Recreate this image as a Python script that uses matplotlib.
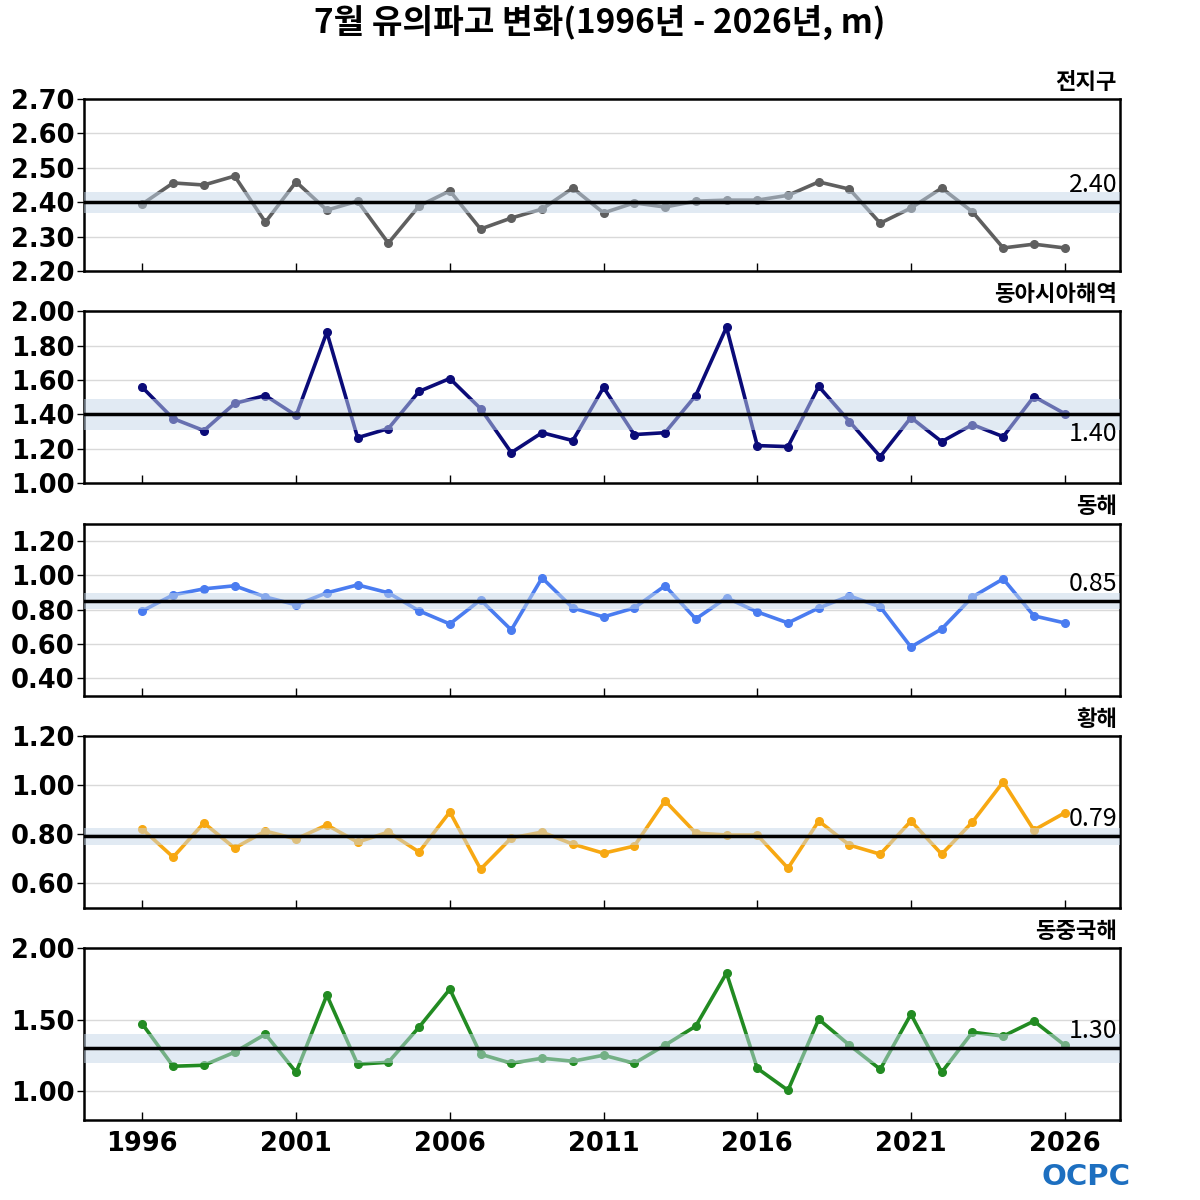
import numpy as np
from matplotlib import pyplot as plt

plt.rcParams['font.family'] = ['Noto Sans CJK KR', 'DejaVu Sans']

years = list(range(1996, 2027))

regions = ['전지구', '동아시아해역', '동해', '황해', '동중국해']
colors = ['#5f5f5f', '#0b0b78', '#4a7cf0', '#f7a812', '#228b22']

global_wh = [2.395, 2.456, 2.450, 2.476, 2.342, 2.459, 2.377, 2.403, 2.281, 2.389,
             2.433, 2.322, 2.354, 2.380, 2.441, 2.369, 2.398, 2.386, 2.403, 2.406,
             2.406, 2.420, 2.459, 2.438, 2.339, 2.383, 2.441, 2.372, 2.267, 2.278,
             2.267]
east_asia_wh = [1.557, 1.376, 1.306, 1.464, 1.510, 1.394, 1.878, 1.265, 1.318, 1.534,
                1.609, 1.434, 1.178, 1.294, 1.248, 1.557, 1.283, 1.294, 1.510, 1.907,
                1.219, 1.213, 1.563, 1.359, 1.155, 1.382, 1.242, 1.341, 1.271, 1.504,
                1.405]
east_sea_wh = [0.792, 0.885, 0.920, 0.938, 0.873, 0.827, 0.897, 0.943, 0.897, 0.792,
               0.716, 0.856, 0.681, 0.984, 0.809, 0.757, 0.809, 0.938, 0.745, 0.868,
               0.786, 0.722, 0.809, 0.879, 0.815, 0.582, 0.687, 0.873, 0.978, 0.763,
               0.722]
yellow_sea_wh = [0.820, 0.706, 0.845, 0.743, 0.812, 0.780, 0.837, 0.767, 0.808, 0.727,
                 0.890, 0.657, 0.784, 0.808, 0.759, 0.722, 0.751, 0.935, 0.804, 0.796,
                 0.796, 0.661, 0.853, 0.755, 0.718, 0.853, 0.718, 0.849, 1.012, 0.816,
                 0.886]
ecs_wh = [1.469, 1.175, 1.182, 1.273, 1.399, 1.133, 1.671, 1.189, 1.203, 1.448,
          1.713, 1.259, 1.196, 1.231, 1.210, 1.252, 1.196, 1.322, 1.455, 1.825,
          1.161, 1.007, 1.503, 1.322, 1.154, 1.538, 1.133, 1.413, 1.385, 1.490,
          1.322]

series = [global_wh, east_asia_wh, east_sea_wh, yellow_sea_wh, ecs_wh]
means = [2.40, 1.40, 0.85, 0.79, 1.30]
band_half = [0.03, 0.09, 0.045, 0.035, 0.10]

ylims = [(2.2, 2.7), (1.0, 2.0), (0.3, 1.3), (0.5, 1.2), (0.8, 2.0)]
yticks = [np.arange(2.2, 2.71, 0.1), np.arange(1.0, 2.01, 0.2), np.arange(0.4, 1.21, 0.2),
          np.arange(0.6, 1.21, 0.2), np.arange(1.0, 2.01, 0.5)]
label_below = [False, True, False, False, False]

fig = plt.figure(figsize=(12, 12), dpi=100)
fig.text(0.5, 0.981, '7월 유의파고 변화(1996년 - 2026년, m)', ha='center', va='center',
         fontsize=24, fontweight='heavy')

for i in range(5):
    top = 99 + i * 212.25
    ax = fig.add_axes([84 / 1200, 1 - (top + 172) / 1200, 1036 / 1200, 172 / 1200])
    ax.set_xlim(1994.1, 2027.8)
    ax.set_ylim(*ylims[i])

    for t in yticks[i]:
        if ylims[i][0] < t < ylims[i][1]:
            ax.axhline(t, color='#d9d9d9', lw=1, zorder=1)

    ax.plot(years, series[i], color=colors[i], lw=2.6, marker='o', ms=5.5, zorder=2)
    ax.axhspan(means[i] - band_half[i], means[i] + band_half[i], color='#c4d6e9',
               alpha=0.5, lw=0, zorder=3)
    ax.axhline(means[i], color='black', lw=2.5, zorder=4)

    if label_below[i]:
        ax.annotate(f'{means[i]:.2f}', (1, means[i]), xycoords=('axes fraction', 'data'),
                    xytext=(-2, -5), textcoords='offset points', ha='right', va='top',
                    fontsize=18, zorder=5)
    else:
        ax.annotate(f'{means[i]:.2f}', (1, means[i]), xycoords=('axes fraction', 'data'),
                    xytext=(-2, 3), textcoords='offset points', ha='right', va='bottom',
                    fontsize=18, zorder=5)

    ax.text(0.997, 1.03, regions[i], transform=ax.transAxes, ha='right', va='bottom',
            fontsize=16, fontweight='bold')

    ax.set_yticks(yticks[i])
    ax.set_yticklabels([f'{t:.2f}' for t in yticks[i]], fontsize=18.5, fontweight='bold',
                       family='DejaVu Sans')
    ax.set_xticks(range(1996, 2027, 5))
    if i == 4:
        ax.set_xticklabels([str(y) for y in range(1996, 2027, 5)], fontsize=18.5,
                           fontweight='bold', family='DejaVu Sans')
    else:
        ax.set_xticklabels([])
    ax.tick_params(axis='y', direction='out', length=5, width=1, pad=2)
    ax.tick_params(axis='x', direction='in', length=6, width=1, pad=8)
    for sp in ax.spines.values():
        sp.set_linewidth(1.8)

fig.text(0.942, 0.019, 'OCPC', ha='right', va='center', fontsize=21, fontweight='bold',
         color='#1d6fc0', family='DejaVu Sans')

fig.savefig('out.png', dpi=100)
